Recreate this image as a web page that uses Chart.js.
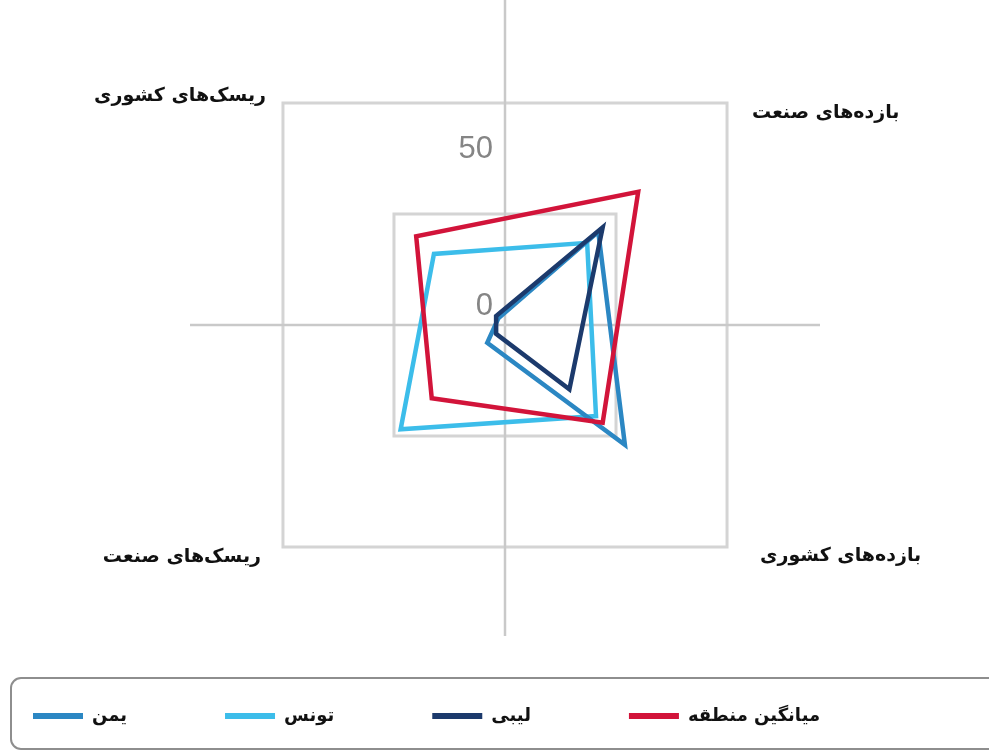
<!DOCTYPE html>
<html>
<head>
<meta charset="utf-8">
<script src="https://cdn.jsdelivr.net/npm/chart.js@4.4.1/dist/chart.umd.min.js"></script>
<style>
  html, body { margin: 0; padding: 0; background: #fff; }
  #wrap { width: 989px; height: 751px; }
</style>
</head>
<body>
<div id="wrap"><canvas id="myChart"></canvas></div>
<script>
const categories = ['بازده‌های صنعت', 'بازده‌های کشوری', 'ریسک‌های صنعت', 'ریسک‌های کشوری'];
const seriesNames = ['یمن', 'تونس', 'لیبی', 'میانگین منطقه'];
const yemen = [42, 54, 8, 3];
const tunisia = [37, 41, 47, 32];
const libya = [44, 29, 4, 4];
const regionAvg = [60, 44, 33, 40];
const tickLabels = [0, 50];

const colors = ['#2b87c3', '#3cbdea', '#1c3a6c', '#d2143a'];
const drawOrder = [2, 3, 0, 1];

// label offsets from the outer grid corners
const labelOffsets = [
    { dx: 25, dy: 10, align: 'left' },
    { dx: 33, dy: 9, align: 'left' },
    { dx: -22, dy: 10, align: 'right' },
    { dx: -17, dy: -7, align: 'right' }
];

const radarDecor = {
    id: 'radarDecor',
    afterLayout(chart) {
        const lg = chart.legend;
        const p = lg.options.labels.padding;
        lg.left = 33 - p;
        lg.top = 707 - p;
    },
    beforeDatasetsDraw(chart) {
        const s = chart.scales.r;
        const c = chart.ctx;
        const r = s.drawingArea;
        c.save();
        c.strokeStyle = '#c9c9c9';
        c.lineWidth = 2.5;
        c.beginPath();
        c.moveTo(s.xCenter - r - 1, s.yCenter);
        c.lineTo(s.xCenter + r + 1, s.yCenter);
        c.moveTo(s.xCenter, 0);
        c.lineTo(s.xCenter, s.yCenter + r - 3);
        c.stroke();

        // tick labels
        c.fillStyle = '#858585';
        c.font = '31px "Liberation Sans"';
        c.textAlign = 'right';
        c.textBaseline = 'middle';
        tickLabels.forEach(v => {
            const d = s.getDistanceFromCenterForValue(v);
            c.fillText(String(v), s.xCenter - 12, s.yCenter - d - 19);
        });

        // category labels
        c.fillStyle = '#111';
        c.font = 'bold 19px "DejaVu Sans"';
        categories.forEach((txt, i) => {
            const pt = s.getPointPosition(i, r);
            const o = labelOffsets[i];
            c.textAlign = o.align;
            c.fillText(txt, pt.x + o.dx, pt.y + o.dy);
        });
        c.restore();
    },
    afterDraw(chart) {
        const c = chart.ctx;
        c.save();
        c.strokeStyle = '#8e8e8e';
        c.lineWidth = 2;
        c.beginPath();
        c.roundRect(11, 678, 1000, 71, 10);
        c.stroke();
        c.restore();
    }
};

const allSeries = [yemen, tunisia, libya, regionAvg];

new Chart(document.getElementById('myChart'), {
    type: 'radar',
    data: {
        labels: categories,
        datasets: allSeries.map((vals, i) => ({
            label: seriesNames[i],
            data: vals,
            borderColor: colors[i],
            backgroundColor: colors[i],
            borderWidth: 4.5,
            fill: false,
            pointRadius: 0,
            pointHoverRadius: 0,
            order: drawOrder[i]
        }))
    },
    options: {
        responsive: true,
        maintainAspectRatio: false,
        animation: false,
        layout: {
            padding: { top: 11, left: 21, right: 0, bottom: 0 }
        },
        scales: {
            r: {
                min: 0,
                max: 100,
                startAngle: 45,
                ticks: { stepSize: 50, display: false },
                grid: { color: '#d4d4d4', lineWidth: 3 },
                angleLines: { display: false },
                pointLabels: { display: false }
            }
        },
        plugins: {
            legend: {
                position: 'bottom',
                align: 'start',
                maxHeight: 112,
                labels: {
                    padding: 98,
                    boxWidth: 50,
                    boxHeight: 6,
                    color: '#111',
                    font: { family: '"DejaVu Sans"', size: 18, weight: 'bold' },
                    sort: (a, b) => a.datasetIndex - b.datasetIndex,
                    generateLabels: chart => Chart.defaults.plugins.legend.labels.generateLabels(chart)
                        .map(l => ({ ...l, lineWidth: 0 }))
                }
            },
            tooltip: { enabled: false }
        }
    },
    plugins: [radarDecor]
});
</script>
</body>
</html>
